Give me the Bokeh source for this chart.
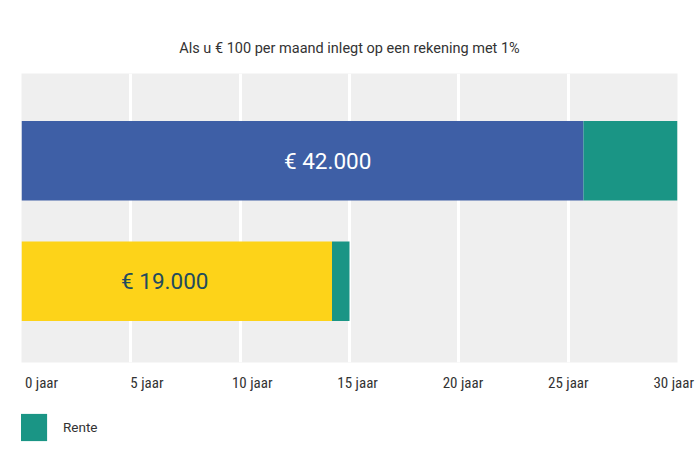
from bokeh.plotting import figure
from bokeh.layouts import column
from bokeh.models import (ColumnDataSource, FactorRange, Range1d, Legend, LegendItem,
                          FixedTicker, LinearAxis)
from bokeh.transform import dodge
from bokeh.core.properties import value
from bokeh.embed import file_html
from bokeh.resources import INLINE

# --- data ---
periodes = ["30 jaar sparen", "15 jaar sparen"]
inleg_eind = [25.7, 14.2]       # end of deposited amount (axis units)
totaal_eind = [30.0, 15.0]      # end of total incl. interest
bedrag_labels = ["€ 42.000", "€ 19.000"]
inleg_kleuren = ["#3e5fa6", "#fdd319"]
label_kleuren = ["#ffffff", "#224b5e"]
tick_jaren = [0, 5, 10, 15, 20, 25, 30]
tick_labels = ["0 jaar", "5 jaar", "10 jaar", "15 jaar", "20 jaar", "25 jaar", "30 jaar"]
titel = "Als u € 100 per maand inlegt op een rekening met 1%"
rente_kleur = "#1a9585"
legend_label = "Rente"

# label anchor positions inside the bars (layout, not data)
label_x = [14.0, 6.55]

src = ColumnDataSource(dict(
    periode=periodes, inleg=inleg_eind, totaal=totaal_eind,
    label=bedrag_labels, kleur=inleg_kleuren, lkleur=label_kleuren, lx=label_x,
))

p = figure(
    width=700, height=400, output_backend="svg", toolbar_location=None,
    y_range=FactorRange(factors=list(reversed(periodes)), range_padding=0.2),
    x_range=Range1d(0, 30),
    min_border_left=21, min_border_right=23, min_border_top=73, min_border_bottom=38,
    title=titel, x_axis_location=None,
)
p.title.align = "center"
p.title.text_font = "Roboto"
p.title.text_font_size = "14.5px"
p.title.text_font_style = "normal"
p.title.text_color = "#333333"
p.title.standoff = 33

p.background_fill_color = "#efefef"
p.border_fill_color = "white"
p.outline_line_color = None

ypos = dodge("periode", -0.025, range=p.y_range)
p.hbar(y=ypos, left=0, right="inleg", height=0.66, fill_color="kleur",
       line_color=None, source=src)
p.hbar(y=ypos, left="inleg", right="totaal", height=0.66,
       fill_color=rente_kleur, line_color=None, source=src)

p.text(x="lx", y=ypos, text="label", text_color="lkleur", source=src,
       text_align="center", text_baseline="middle",
       text_font=value("Roboto"), text_font_size="22.5px")

p.yaxis.visible = False
p.ygrid.grid_line_color = None
p.xgrid.ticker = FixedTicker(ticks=tick_jaren)
p.xgrid.grid_line_color = "white"
p.xgrid.grid_line_width = 3

# tick labels spread evenly as in the reference
p.extra_x_ranges = {"lbl": Range1d(-0.95, 30.18)}
xa = LinearAxis(x_range_name="lbl")
xa.ticker = FixedTicker(ticks=tick_jaren)
xa.major_label_overrides = {t: l for t, l in zip(tick_jaren, tick_labels)}
xa.major_tick_line_color = None
xa.minor_tick_line_color = None
xa.axis_line_color = None
xa.major_label_standoff = 5
xa.major_label_text_font = "Roboto Condensed, Liberation Sans Narrow, DejaVu Sans Condensed, Roboto"
xa.major_label_text_font_size = "15px"
xa.major_label_text_color = "#333333"
p.add_layout(xa, "below")

# legend strip below the chart
lf = figure(width=700, height=70, output_backend="svg", toolbar_location=None,
            x_range=Range1d(0, 1), y_range=Range1d(0, 1),
            min_border=0, outline_line_color=None)
lf.axis.visible = False
lf.grid.visible = False
lf.background_fill_color = "white"
dummy = lf.rect(x=[5], y=[5], width=1, height=1, fill_color=rente_kleur, line_color=None)
legend = Legend(
    items=[LegendItem(label=legend_label, renderers=[dummy])],
    location=(-5, 26), orientation="vertical",
    glyph_width=34, glyph_height=34, label_standoff=13,
    padding=0, margin=0, border_line_color=None, background_fill_alpha=0,
    label_text_font="Roboto", label_text_font_size="13.5px", label_text_color="#333333",
)
lf.add_layout(legend)

layout = column(p, lf, spacing=0)
open("out.html", "w").write(file_html(layout, INLINE))
